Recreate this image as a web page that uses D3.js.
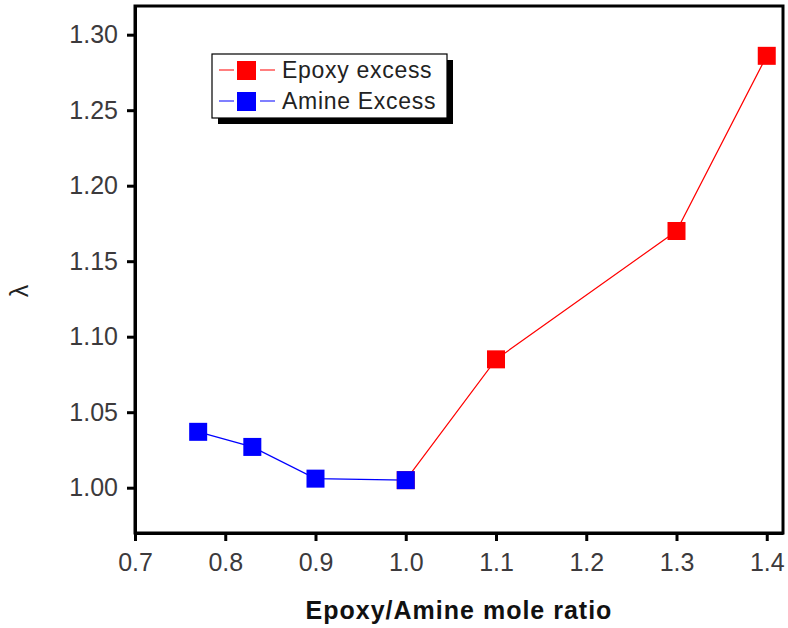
<!DOCTYPE html>
<html>
<head>
<meta charset="utf-8">
<script src="https://cdn.jsdelivr.net/npm/d3@7"></script>
<style>
body { margin: 0; background: #fff; }
text { font-family: "Liberation Sans", Arial, sans-serif; }
</style>
</head>
<body>
<div id="chart"></div>
<script>
// data
var epoxyX = [1.0, 1.1, 1.3, 1.4];
var epoxyY = [1.005, 1.085, 1.170, 1.286];
var amineX = [0.77, 0.83, 0.9, 1.0];
var amineY = [1.037, 1.027, 1.006, 1.005];
var xTicks = [0.7, 0.8, 0.9, 1.0, 1.1, 1.2, 1.3, 1.4];
var yTicks = [1.00, 1.05, 1.10, 1.15, 1.20, 1.25, 1.30];
var seriesNames = ["Epoxy excess", "Amine Excess"];
var seriesColors = ["#ff0000", "#0000ff"];

var W = 788, H = 628;
var margin = { top: 6, right: 5, bottom: 95, left: 135 },
    width = W - margin.left - margin.right,
    height = H - margin.top - margin.bottom;

var svg = d3.select("#chart")
    .append("svg")
    .attr("width", W)
    .attr("height", H)
    .append("g")
    .attr("transform", "translate(" + margin.left + "," + margin.top + ")");

var x = d3.scaleLinear().domain([0.7, 1.418]).range([0, width]);
var y = d3.scaleLinear().domain([0.970, 1.319]).range([height, 0]);

var series = [
    { name: seriesNames[0], color: seriesColors[0], pts: epoxyX.map(function(v, i) { return [v, epoxyY[i]]; }) },
    { name: seriesNames[1], color: seriesColors[1], pts: amineX.map(function(v, i) { return [v, amineY[i]]; }) }
];

// frame
svg.append("rect")
    .attr("width", width)
    .attr("height", height)
    .attr("fill", "none")
    .attr("stroke", "#000")
    .attr("stroke-width", 3);

// axes
var xAxis = svg.append("g")
    .attr("transform", "translate(0," + height + ")")
    .call(d3.axisBottom(x).tickValues(xTicks).tickFormat(d3.format(".1f")).tickSize(8).tickSizeOuter(0));
var yAxis = svg.append("g")
    .call(d3.axisLeft(y).tickValues(yTicks).tickFormat(d3.format(".2f")).tickSize(8).tickSizeOuter(0));

[xAxis, yAxis].forEach(function(a) {
    a.select(".domain").attr("stroke-width", 3);
    a.selectAll(".tick line").attr("stroke-width", 3);
    a.selectAll(".tick text")
        .attr("fill", "#3c3a3c")
        .style("font-size", "25px");
});
xAxis.selectAll(".tick text").attr("y", 20).attr("dy", "0.71em");
yAxis.selectAll(".tick text").attr("x", -17);

// axis titles
svg.append("text")
    .attr("x", (303 + 615) / 2 - margin.left)
    .attr("y", 619 - margin.top)
    .attr("text-anchor", "middle")
    .style("font-size", "25px")
    .style("font-weight", "bold")
    .style("letter-spacing", "1px")
    .attr("fill", "#111")
    .text("Epoxy/Amine mole ratio");

svg.append("text")
    .attr("transform", "translate(" + (28 - margin.left) + "," + (291 - margin.top) + ") rotate(-90)")
    .attr("text-anchor", "middle")
    .style("font-size", "25px")
    .attr("fill", "#222")
    .text("λ");

// lines and markers
var line = d3.line()
    .x(function(d) { return x(d[0]); })
    .y(function(d) { return y(d[1]); });

series.forEach(function(s) {
    svg.append("path")
        .datum(s.pts)
        .attr("fill", "none")
        .attr("stroke", s.color)
        .attr("stroke-width", 1.2)
        .attr("d", line);
});

series.forEach(function(s) {
    svg.selectAll(null)
        .data(s.pts)
        .enter()
        .append("rect")
        .attr("x", function(d) { return x(d[0]) - 9; })
        .attr("y", function(d) { return y(d[1]) - 9; })
        .attr("width", 18)
        .attr("height", 18)
        .attr("fill", s.color);
});

// legend
var lg = svg.append("g").attr("transform", "translate(" + (212 - margin.left) + "," + (54 - margin.top) + ")");
lg.append("rect")
    .attr("x", 6).attr("y", 6)
    .attr("width", 235).attr("height", 64)
    .attr("fill", "#000");
lg.append("rect")
    .attr("width", 235).attr("height", 64)
    .attr("fill", "#fff")
    .attr("stroke", "#000")
    .attr("stroke-width", 1.2);

series.forEach(function(s, i) {
    var gy = 16 + i * 31;
    lg.append("line")
        .attr("x1", 7).attr("x2", 63)
        .attr("y1", gy).attr("y2", gy)
        .attr("stroke", s.color)
        .attr("stroke-width", 1.2);
    lg.append("rect")
        .attr("x", 25).attr("y", gy - 9)
        .attr("width", 19).attr("height", 19)
        .attr("fill", s.color);
    lg.append("rect")
        .attr("x", 22).attr("y", gy - 1)
        .attr("width", 3).attr("height", 2)
        .attr("fill", "#fff");
    lg.append("rect")
        .attr("x", 44).attr("y", gy - 1)
        .attr("width", 4).attr("height", 2)
        .attr("fill", "#fff");
    lg.append("text")
        .attr("x", 70).attr("y", gy + 8)
        .style("font-size", "23px")
        .style("letter-spacing", "0.7px")
        .attr("fill", "#222")
        .text(s.name);
});
</script>
</body>
</html>
